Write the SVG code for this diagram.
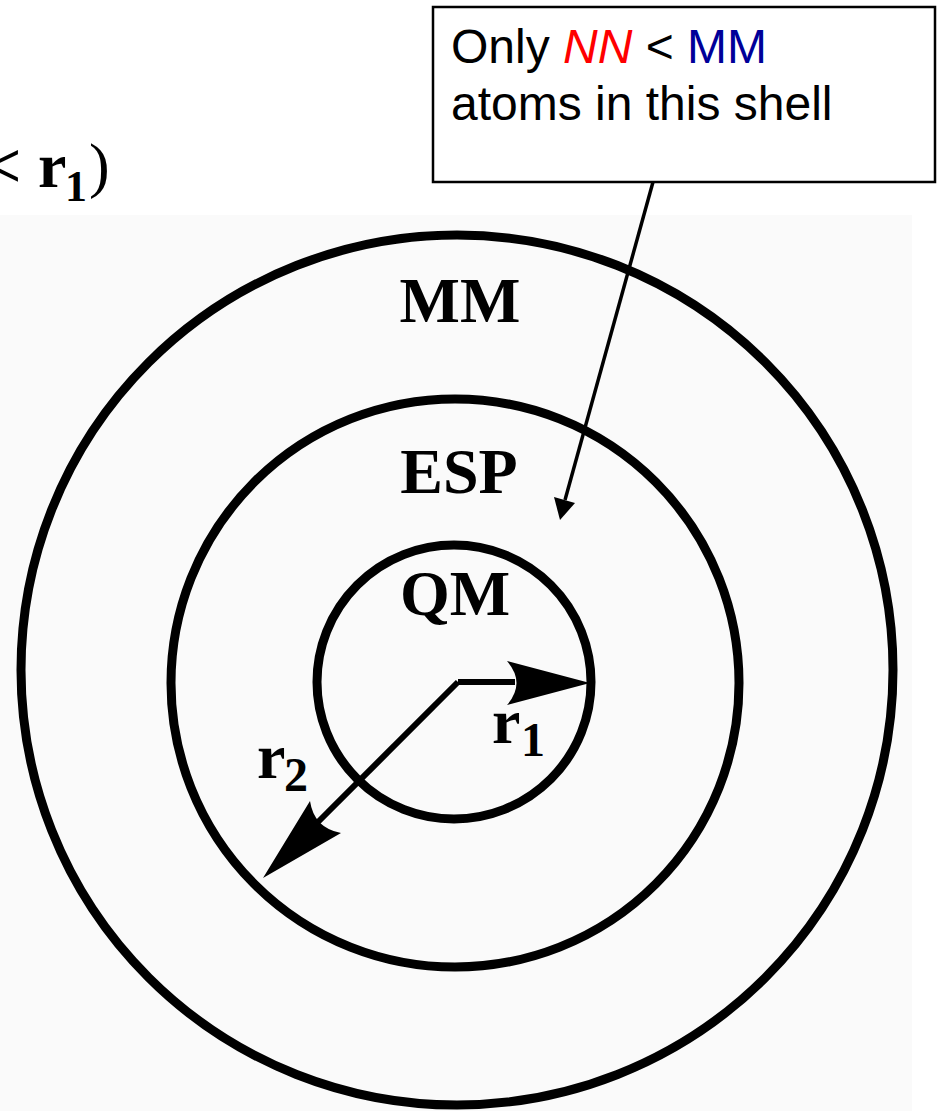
<svg xmlns="http://www.w3.org/2000/svg" width="938" height="1111" viewBox="0 0 938 1111">
<style>
.ring{fill:none;stroke:#000;stroke-width:9}
.lbl{font-family:"Liberation Serif","Times New Roman",serif;font-weight:bold;fill:#000}
.note{font-family:"Liberation Sans",Arial,sans-serif;font-size:48px;fill:#000}
.shaft{stroke:#000;stroke-width:6;fill:none}
</style>
<rect x="0" y="0" width="938" height="1111" fill="#fff"/>
<rect x="0" y="215" width="912" height="896" fill="#fafafa"/>
<g id="title">
<text class="lbl" x="-15" y="187" font-size="64">&lt;</text>
<text class="lbl" x="38" y="187" font-size="64">r</text>
<text class="lbl" x="65" y="201" font-size="44">1</text>
<text x="89" y="186" font-size="62" font-family="'Liberation Serif','Times New Roman',serif">)</text>
</g>
<g id="mm-shell">
<ellipse class="ring" cx="457" cy="670" rx="436" ry="435"/>
<text class="lbl" x="460" y="322" font-size="64" text-anchor="middle">MM</text>
</g>
<g id="esp-shell">
<circle class="ring" cx="455" cy="683" r="284"/>
<text class="lbl" x="459" y="493" font-size="64" text-anchor="middle">ESP</text>
</g>
<g id="qm-core">
<circle class="ring" cx="454" cy="682" r="137"/>
<text class="lbl" x="455" y="615" font-size="64" text-anchor="middle">QM</text>
</g>
<g id="connectors">
<path class="shaft" d="M458,682 L515,682"/>
<path d="M590,683 L507,661 Q526,683 507,705 Z" fill="#000"/>
<path class="shaft" d="M458,682 L318,822"/>
<path d="M263,878 L310,801 Q314,828 341,833 Z" fill="#000"/>
<path d="M653,182 L565,500" stroke="#000" stroke-width="3.5" fill="none"/>
<path d="M560,520 L554,497 L575,503 Z" fill="#000"/>
</g>
<g id="r1-label">
<text class="lbl" x="492" y="743" font-size="64">r</text>
<text class="lbl" x="521" y="756" font-size="48">1</text>
</g>
<g id="r2-label">
<text class="lbl" x="257" y="778" font-size="64">r</text>
<text class="lbl" x="284" y="791" font-size="48">2</text>
</g>
<g id="note-box">
<rect x="433" y="7" width="502" height="175" fill="#fff" stroke="#000" stroke-width="2.5"/>
<text class="note" x="451" y="63">Only <tspan fill="#ff0000" font-style="italic">NN</tspan> &lt; <tspan fill="#000099">MM</tspan></text>
<text class="note" x="451" y="120">atoms in this shell</text>
</g>
</svg>
